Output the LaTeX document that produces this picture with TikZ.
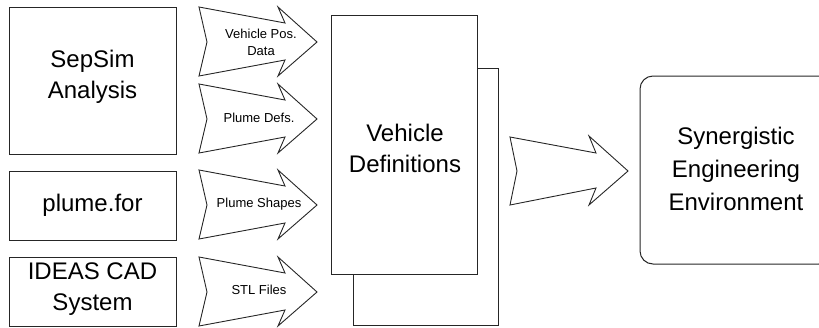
\documentclass[tikz,border=0pt]{standalone}
\usepackage{fontspec}
\setmainfont{Liberation Sans}
\begin{document}
\begin{tikzpicture}[x=1pt,y=-1pt,
  boxline/.style={draw=black!85,line width=1pt},
  bigtext/.style={font=\fontsize{24}{31}\selectfont,align=center,inner sep=0pt},
  smalltext/.style={font=\fontsize{13}{17}\selectfont,align=center,inner sep=0pt},
  blockarrow/.style={draw=black!85,line width=0.9pt,line join=miter}]
\useasboundingbox (0,0) rectangle (819,327);
\begin{scope}
\clip (0,0) rectangle (819,327);
% source boxes
\draw[boxline] (9,7) rectangle (176,154);
\node[bigtext] (sepsim) at (92.5,77) {SepSim\\Analysis};
\draw[boxline] (9,171) rectangle (176,240);
\node[bigtext] (plume) at (92.5,205) {plume.for};
\draw[boxline] (9,257) rectangle (176,326);
\node[bigtext] (ideas) at (92.5,289) {IDEAS CAD\\System};
% small block arrows
\foreach \y/\nm in {7/a1,84/a2,170/a3,257/a4}{
  \draw[blockarrow] (199,\y) -- (285,\y+16) -- (278,\y) -- (317,\y+35) -- (278,\y+69)
     -- (285,\y+53) -- (199,\y+69) -- (207,\y+35) -- cycle;
}
\node[smalltext] (l1) at (261,42) {Vehicle Pos.\\Data};
\node[smalltext] (l2) at (259,118) {Plume Defs.};
\node[smalltext] (l3) at (259,204) {Plume Shapes};
\node[smalltext] (l4) at (259,290) {STL Files};
% vehicle definitions stack
\draw[boxline,fill=white] (353,68) rectangle (498,325);
\draw[boxline,fill=white] (331,15) rectangle (477,274);
\node[bigtext] (vdef) at (405,148) {Vehicle\\Definitions};
% big arrow
\draw[blockarrow] (510,137) -- (596,153) -- (589,136) -- (628,171) -- (589,205)
   -- (596,188) -- (510,205) -- (517,171) -- cycle;
% SEE box
\draw[boxline,rounded corners=13pt] (640,76) rectangle (832,264);
\node[bigtext,font=\fontsize{24}{33}\selectfont] (see) at (736,169) {Synergistic\\Engineering\\Environment};
\end{scope}
\end{tikzpicture}
\end{document}
